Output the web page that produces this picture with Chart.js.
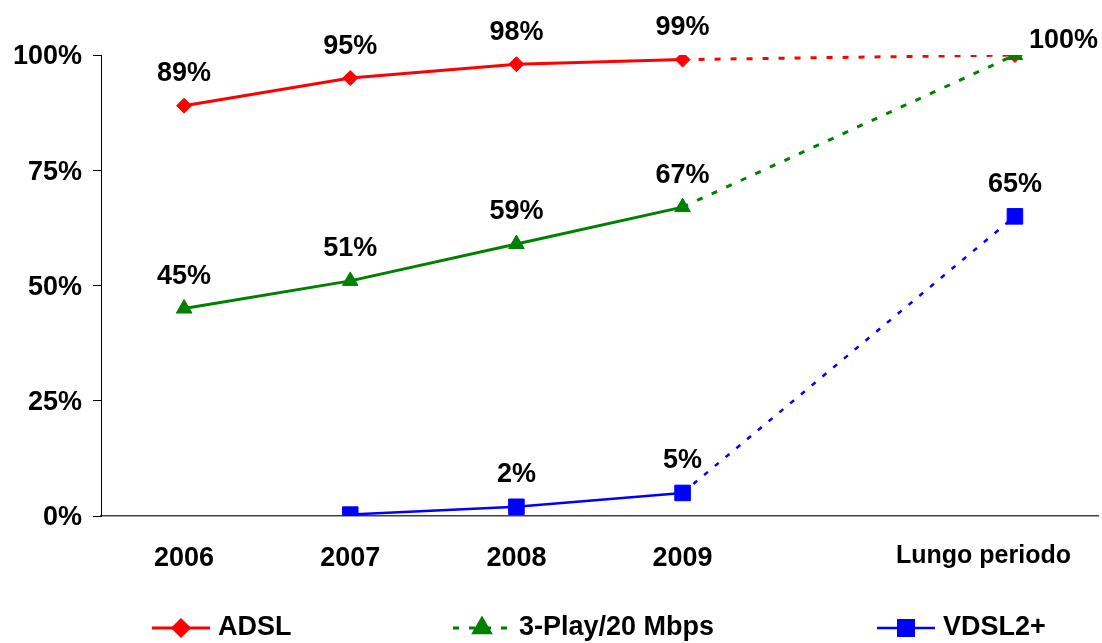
<!DOCTYPE html>
<html><head><meta charset="utf-8">
<script src="https://cdn.jsdelivr.net/npm/chart.js@4"></script>
<style>html,body{margin:0;padding:0;background:#fff}#wrap{width:1102px;height:643px}</style>
</head><body><div id="wrap"><canvas id="c" width="1102" height="643"></canvas></div>
<script>
const categories = ['2006', '2007', '2008', '2009', '', 'Lungo periodo'];
const adsl = [89, 95, 98, 99, null, 100];
const play3 = [45, 51, 59, 67, null, 100];
const vdsl = [null, 0.3, 2, 5, null, 65];
const adslLabels = ['89%', '95%', '98%', '99%', null, '100%'];
const play3Labels = ['45%', '51%', '59%', '67%', null, null];
const vdslLabels = [null, null, '2%', '5%', null, '65%'];
const seriesNames = ['ADSL', '3-Play/20 Mbps', 'VDSL2+'];
const yTicks = [0, 25, 50, 75, 100];

const FONT = "'Liberation Sans', Arial, sans-serif";
const RED = '#ff0000', GREEN = '#008000', BLUE = '#0000ff';
const labelSets = [adslLabels, play3Labels, vdslLabels];
const lastIdx = categories.length - 1;

const dashSeg = (dash) => ({
  borderDash: ctx => ctx.p1DataIndex === lastIdx ? dash : undefined
});

const dataLabelPlugin = {
  id: 'dataLabels',
  afterDatasetsDraw(chart) {
    const ctx = chart.ctx;
    ctx.save();
    ctx.font = 'bold 27px ' + FONT;
    ctx.fillStyle = '#000';
    ctx.textBaseline = 'middle';
    chart.data.datasets.forEach((ds, di) => {
      const meta = chart.getDatasetMeta(di);
      const labels = labelSets[ds.labelSet];
      meta.data.forEach((pt, i) => {
        const t = labels[i];
        if (!t) return;
        if (ds.labelSet === 0 && i === lastIdx) {
          ctx.textAlign = 'left';
          ctx.fillText(t, pt.x + 14, pt.y - 14);
        } else {
          ctx.textAlign = 'center';
          ctx.fillText(t, pt.x, pt.y - 32);
        }
      });
    });
    // last category label, kept inside the chart's right edge
    const xs = chart.scales.x;
    ctx.font = 'bold 25px ' + FONT;
    ctx.textAlign = 'right';
    ctx.fillText(categories[lastIdx], xs.right - 27, xs.top + 40);
    ctx.restore();
  }
};

const legendPlugin = {
  id: 'customLegend',
  afterDraw(chart) {
    const ctx = chart.ctx;
    const y = 628;
    const items = [
      {x: 152, color: RED, dash: [], style: 'rectRot', r: 8, w: 3},
      {x: 453, color: GREEN, dash: [6, 10], style: 'triangle', r: 9.5, w: 3},
      {x: 877, color: BLUE, dash: [], style: 'rect', r: 11, w: 2.5}
    ];
    items.forEach((it, k) => {
      ctx.save();
      ctx.strokeStyle = it.color;
      ctx.lineWidth = it.w;
      ctx.setLineDash(it.dash);
      ctx.beginPath();
      ctx.moveTo(it.x, y);
      ctx.lineTo(it.x + 58, y);
      ctx.stroke();
      ctx.setLineDash([]);
      ctx.fillStyle = it.color;
      Chart.helpers.drawPoint(ctx, {pointStyle: it.style, radius: it.r, borderWidth: 1, rotation: 0}, it.x + 29, y);
      ctx.fill();
      ctx.fillStyle = '#000';
      ctx.font = 'bold 27px ' + FONT;
      ctx.textAlign = 'left';
      ctx.textBaseline = 'middle';
      ctx.fillText(seriesNames[k], it.x + 66, y);
      ctx.restore();
    });
  }
};

new Chart(document.getElementById('c'), {
  type: 'line',
  data: {
    labels: categories,
    datasets: [
      {label: seriesNames[0], labelSet: 0, data: adsl, order: 2, borderColor: RED, backgroundColor: RED,
       borderWidth: 3, pointStyle: 'rectRot', pointRadius: 7.5, pointBorderWidth: 1,
       spanGaps: true, tension: 0, segment: dashSeg([6, 10])},
      {label: seriesNames[1], labelSet: 1, data: play3, order: 1, borderColor: GREEN, backgroundColor: GREEN,
       borderWidth: 3, pointStyle: 'triangle', pointRadius: 9, pointBorderWidth: 1,
       spanGaps: true, tension: 0, segment: dashSeg([6, 10])},
      {label: seriesNames[2], labelSet: 2, data: vdsl, order: 0, borderColor: BLUE, backgroundColor: BLUE,
       borderWidth: 2.5, pointStyle: 'rect', pointRadius: 11, pointBorderWidth: 1,
       spanGaps: true, tension: 0, segment: dashSeg([5, 9])}
    ]
  },
  options: {
    responsive: false,
    animation: false,
    devicePixelRatio: 1,
    layout: {autoPadding: false, padding: {top: 55, right: 4, left: 0, bottom: 0}},
    plugins: {legend: {display: false}, tooltip: {enabled: false}},
    scales: {
      x: {
        offset: true,
        grid: {display: false},
        border: {display: true, color: '#404040', width: 1.5},
        ticks: {
          color: '#000', autoSkip: false, maxRotation: 0, padding: 18,
          font: {family: FONT, weight: 'bold', size: 27},
          callback: (v, i) => i === lastIdx ? '' : categories[i]
        },
        afterFit: s => { s.height = 127; s.paddingLeft = 0; s.paddingRight = 0; }
      },
      y: {
        min: 0, max: 100,
        afterBuildTicks: s => { s.ticks = yTicks.map(v => ({value: v})); },
        grid: {drawOnChartArea: false, drawTicks: true, tickLength: 8, color: '#000', lineWidth: 1},
        border: {display: true, color: '#000', width: 1},
        ticks: {color: '#000', padding: 11, labelOffset: 2, font: {family: FONT, weight: 'bold', size: 27},
                callback: v => v + '%'},
        afterFit: s => { s.width = 101; s.paddingTop = 0; s.paddingBottom = 0; }
      }
    }
  },
  plugins: [dataLabelPlugin, legendPlugin]
});
</script>
</body></html>
